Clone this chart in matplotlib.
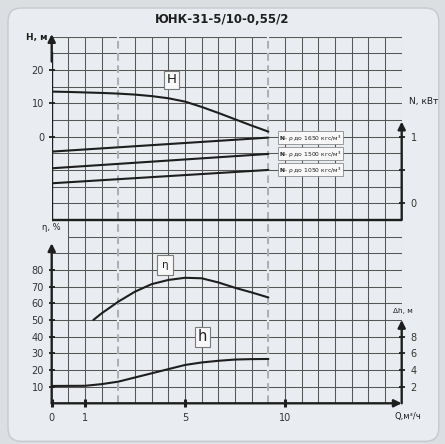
import numpy as np
import matplotlib
matplotlib.use('Agg')
import matplotlib.pyplot as plt
from matplotlib.patches import FancyBboxPatch

plt.rcParams['font.family'] = ['DejaVu Sans']

title = 'ЮНК-31-5/10-0,55/2'

# x positions are grid columns; Q labels sit on columns 0, 2, 8, 14
q_cols = [0, 2, 8, 14]
q_labels = ['0', '1', '5', '10']
dash_cols = [4, 13]

# head H, m
h_cols = [0, 1, 2, 3, 4, 5, 6, 7, 8, 9, 10, 11, 12, 13]
h_vals = [13.5, 13.4, 13.25, 13.1, 12.9, 12.6, 12.15, 11.5, 10.5, 8.9,
          7.1, 5.2, 3.3, 1.5]

# power N, kW for three densities
n_cols = [0, 13]
n_1650 = [0.775, 0.985]
n_1500 = [0.525, 0.74]
n_1050 = [0.30, 0.50]
n_names = ['1650', '1500', '1050']

# efficiency, %
eta_cols = [2.5, 3, 4, 5, 6, 7, 8, 9, 10, 11, 12, 13]
eta_vals = [50, 54, 61, 67, 71.5, 74, 75.3, 75, 72.5, 69.3, 66.5, 63.5]

# NPSH dh, m
dh_cols = [0, 2, 3, 4, 5, 6, 7, 8, 9, 10, 11, 12, 13]
dh_vals = [2.08, 2.1, 2.3, 2.6, 3.1, 3.6, 4.1, 4.6, 4.9, 5.1, 5.25, 5.3, 5.32]

ink = '#1e1e1e'
grid_c = '#565656'
bg = '#e9edf1'

fig = plt.figure(figsize=(4.45, 4.44), dpi=100, facecolor='#dcdfe2')
frame = FancyBboxPatch((0.018, 0.006), 0.968, 0.976,
                       boxstyle='round,pad=0,rounding_size=0.03',
                       transform=fig.transFigure, fc=bg,
                       ec='#c6cacf', lw=1.0, zorder=-10)
fig.patches.append(frame)
fig.text(0.5, 0.955, title, ha='center', va='center', fontsize=8.5,
         fontweight='bold', color=ink)

rect = [51.7 / 445, 1 - 403.3 / 444, 350 / 445, 366.7 / 444]
ax = fig.add_axes(rect)
ax.patch.set_visible(False)
ax.set_xlim(0, 21)
ax.set_ylim(0, 22)
for s in ax.spines.values():
    s.set_visible(False)
ax.set_yticks([])

# grid
ax.vlines(np.arange(1, 22), 0, 22, color=grid_c, lw=0.75, zorder=1)
for r in range(1, 23):
    ax.hlines(r, 1 if r == 10 else 0, 21, color=grid_c, lw=0.75, zorder=1)
for c in dash_cols:
    ax.vlines(c, 0, 22, color=bg, lw=1.6, zorder=2)
    ax.vlines(c, 0, 22, color='#9a9ea3', lw=1.1, linestyles=(0, (5, 3)),
              zorder=2)

# axes lines
arrow = dict(arrowstyle='-|>', lw=1.7, color=ink, mutation_scale=11,
             shrinkA=0, shrinkB=0)
ax.plot([0, 21], [11, 11], color=ink, lw=1.7, zorder=3)
ax.plot([0, 0], [11, 21], color=ink, lw=1.7, zorder=3)
for tip, tail in [((0, 22.15), (0, 20.5)), ((21, 16.9), (21, 11)),
                  ((0, 9.6), (0, 0)), ((21, 5.0), (21, 0)),
                  ((21, 0), (0, 0))]:
    ax.annotate('', xy=tip, xytext=tail, arrowprops=arrow, zorder=4,
                annotation_clip=False)

ax.set_xticks(q_cols)
ax.set_xticklabels(q_labels)
ax.tick_params(axis='x', direction='inout', length=6, width=2.2,
               color=ink, labelsize=7, pad=4, labelcolor='#333333')

txt = dict(color=ink, clip_on=False)
ax.text(-0.25, 21.95, 'H, м', ha='right', va='center', fontsize=6.5,
        fontweight='bold', **txt)
ax.text(21.45, 18.1, 'N, кВт', ha='left', va='center', fontsize=6.5, **txt)
ax.text(0, 10.55, 'η, %', ha='center', va='center', fontsize=6, **txt)
ax.text(21.1, 5.55, 'Δh, м', ha='center', va='center', fontsize=5.3, **txt)
ax.text(21.4, -0.78, 'Q,м³/ч', ha='center', va='center', fontsize=6, **txt)

box = dict(boxstyle='square,pad=0.2', fc='#f8f8f8', ec='#7a7a7a', lw=0.8)
ax.text(7.2, 19.4, 'H', ha='center', va='center', fontsize=9.5, bbox=box,
        zorder=5, color=ink)
ax.text(6.8, 8.3, 'η', ha='center', va='center', fontsize=7.5, zorder=5,
        color=ink, bbox=dict(box, boxstyle='square,pad=0.45'))
ax.text(9.05, 3.98, 'h', ha='center', va='center', fontsize=10.5, bbox=box,
        zorder=5, color=ink)


def overlay(lo, hi):
    a = fig.add_axes(rect)
    a.patch.set_visible(False)
    for s in a.spines.values():
        s.set_visible(False)
    a.set_xlim(0, 21)
    a.set_ylim(lo, hi)
    a.set_xticks([])
    return a


tick_kw = dict(direction='inout', length=5, width=1.3, color=ink,
               labelsize=7, labelcolor='#333333')
curve = dict(color=ink, lw=1.5, solid_joinstyle='round',
             solid_capstyle='round')

# head
axH = overlay(-80, 30)
axH.plot(h_cols, h_vals, **curve)
axH.set_yticks([0, 10, 20])
axH.tick_params(axis='y', pad=3, **tick_kw)

# power
axN = overlay(-3, 2.5)
small = dict(boxstyle='square,pad=0.25', fc='#f8f8f8', ec='#8a8a8a', lw=0.6)
for vals, name in zip([n_1650, n_1500, n_1050], n_names):
    axN.plot(n_cols, vals, **curve)
    axN.text(13.65, vals[-1], r'$\mathbf{N}$- ρ до ' + name + ' кгс/м³',
             ha='left', va='center', fontsize=4.3, bbox=small, color=ink)
axN.yaxis.tick_right()
axN.set_yticks([0, 0.5, 1])
axN.set_yticklabels(['0', '', '1'])
axN.tick_params(axis='y', pad=4, **tick_kw)

# efficiency
axE = overlay(0, 220)
axE.plot(eta_cols, eta_vals, **curve)
axE.set_yticks(np.arange(10, 90, 10))
axE.tick_params(axis='y', pad=3, **tick_kw)

# npsh
axD = overlay(0, 44)
axD.plot(dh_cols, dh_vals, **curve)
axD.yaxis.tick_right()
axD.set_yticks([2, 4, 6, 8])
axD.tick_params(axis='y', pad=4, **tick_kw)

fig.savefig('out.png', dpi=100, facecolor=fig.get_facecolor())
